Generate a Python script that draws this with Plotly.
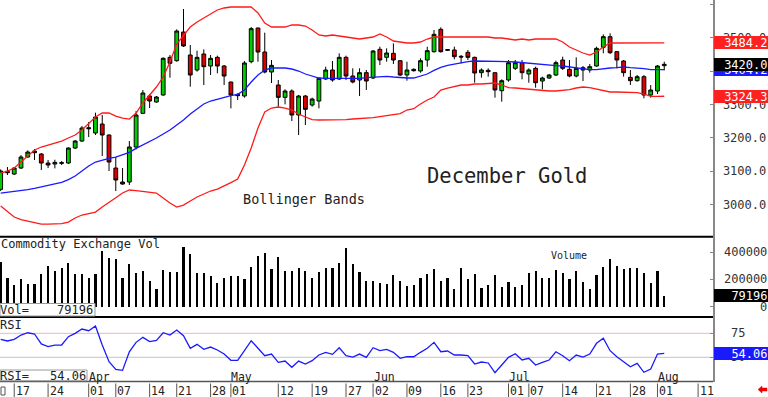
import plotly.graph_objects as go
import pandas as pd

W, H = 768, 397
FONT = "DejaVu Sans Mono"

# ---------------- data ----------------
open_ = [3045, 3099, 3091, 3109, 3142, 3160, 3151, 3124, 3121, 3123, 3124, 3169, 3190, 3230, 3214, 3241, 3208, 3109, 3067, 3067,
         3172, 3273, 3325, 3307, 3328, 3441, 3431, 3517, 3448, 3403, 3451, 3415, 3441, 3415, 3367, 3330, 3325, 3428, 3529, 3457,
         3397, 3358, 3321, 3340, 3268, 3325, 3298, 3310, 3376, 3403, 3376, 3441, 3385, 3373, 3395, 3379, 3465, 3441, 3453, 3431,
         3388, 3405, 3400, 3433, 3458, 3525, 3462, 3463, 3444, 3456, 3441, 3395, 3402, 3395, 3341, 3373, 3408, 3425, 3391, 3408,
         3370, 3379, 3388, 3433, 3405, 3385, 3410, 3403, 3415, 3471, 3503, 3458, 3430, 3381, 3371, 3383, 3328, 3340, 3416]
high = [3105, 3112, 3112, 3148, 3162, 3166, 3154, 3133, 3134, 3130, 3171, 3193, 3235, 3247, 3275, 3268, 3210, 3142, 3109, 3190,
        3280, 3343, 3331, 3325, 3441, 3448, 3525, 3586, 3478, 3461, 3465, 3448, 3446, 3418, 3368, 3333, 3430, 3532, 3530, 3515,
        3433, 3373, 3345, 3345, 3328, 3328, 3320, 3381, 3413, 3430, 3453, 3446, 3408, 3408, 3403, 3463, 3473, 3468, 3483, 3433,
        3428, 3408, 3438, 3473, 3523, 3531, 3466, 3473, 3448, 3463, 3443, 3408, 3408, 3395, 3375, 3433, 3433, 3433, 3408, 3413,
        3383, 3391, 3431, 3443, 3433, 3441, 3415, 3421, 3473, 3510, 3513, 3460, 3433, 3403, 3388, 3388, 3358, 3418, 3428]
low = [3040, 3088, 3088, 3106, 3140, 3133, 3103, 3109, 3108, 3118, 3121, 3166, 3187, 3202, 3208, 3145, 3100, 3040, 3059, 3058,
       3165, 3271, 3289, 3305, 3326, 3380, 3428, 3472, 3353, 3398, 3358, 3388, 3393, 3358, 3288, 3313, 3320, 3423, 3428, 3393,
       3364, 3293, 3300, 3250, 3208, 3238, 3293, 3288, 3373, 3368, 3373, 3373, 3363, 3325, 3343, 3376, 3418, 3428, 3421, 3385,
       3371, 3398, 3395, 3413, 3455, 3455, 3460, 3435, 3423, 3433, 3365, 3380, 3383, 3320, 3308, 3368, 3403, 3375, 3365, 3350,
       3345, 3376, 3385, 3403, 3381, 3381, 3370, 3395, 3413, 3453, 3451, 3408, 3383, 3358, 3368, 3318, 3320, 3331, 3402]
close = [3100, 3095, 3109, 3142, 3157, 3155, 3124, 3118, 3126, 3125, 3169, 3190, 3229, 3227, 3262, 3208, 3127, 3073, 3061, 3172,
         3268, 3334, 3310, 3322, 3438, 3423, 3520, 3475, 3388, 3441, 3413, 3438, 3415, 3385, 3328, 3326, 3424, 3527, 3457, 3397,
         3417, 3321, 3340, 3268, 3325, 3285, 3316, 3378, 3403, 3373, 3441, 3385, 3367, 3395, 3370, 3460, 3433, 3454, 3433, 3388,
         3403, 3401, 3431, 3461, 3510, 3458, 3464, 3443, 3442, 3441, 3394, 3403, 3398, 3343, 3371, 3425, 3425, 3395, 3403, 3365,
         3379, 3388, 3425, 3408, 3385, 3408, 3403, 3413, 3468, 3503, 3455, 3433, 3395, 3371, 3383, 3328, 3343, 3415, 3420.0]

# Bollinger bands (in price units)
upper_band = [3094, 3100, 3109, 3127, 3145, 3163, 3172, 3178, 3184, 3190, 3199, 3208, 3223, 3241, 3262, 3274, 3274, 3265, 3259, 3256,
              3274, 3304, 3328, 3352, 3382, 3427, 3481, 3508, 3532, 3547, 3559, 3571, 3583, 3589, 3592, 3592, 3592, 3592, 3574, 3544,
              3532, 3532, 3532, 3538, 3538, 3535, 3523, 3508, 3505, 3508, 3505, 3502, 3499, 3496, 3499, 3502, 3511, 3502, 3490, 3487,
              3484, 3484, 3487, 3496, 3502, 3502, 3502, 3502, 3502, 3502, 3502, 3502, 3502, 3499, 3499, 3496, 3493, 3496, 3493, 3496,
              3496, 3496, 3496, 3487, 3472, 3463, 3454, 3448, 3457, 3472, 3484, 3484, 3484, 3484, 3484, 3484, 3484, 3484.2, 3484.2]
mid_band = [3034, 3036, 3038, 3042, 3044, 3048, 3052, 3056, 3061, 3066, 3074, 3085, 3100, 3115, 3127, 3133, 3138, 3142, 3148, 3156,
            3168, 3178, 3190, 3199, 3211, 3223, 3238, 3253, 3271, 3286, 3301, 3310, 3316, 3322, 3326, 3330, 3343, 3367, 3388, 3403,
            3409, 3409, 3409, 3406, 3400, 3391, 3384, 3379, 3378, 3378, 3378, 3376, 3376, 3378, 3380, 3382, 3382, 3384, 3382, 3380,
            3379, 3379, 3384, 3391, 3402, 3411, 3417, 3421, 3426, 3428, 3430, 3430, 3430, 3430, 3430, 3428, 3427, 3425, 3423, 3420,
            3418, 3418, 3416, 3415, 3412, 3409, 3406, 3404, 3404, 3407, 3409, 3410, 3412, 3410, 3409, 3407, 3404, 3403, 3404.2]
low_band = [2995, 2977, 2962, 2954, 2950, 2946, 2941, 2941, 2941, 2942, 2947, 2959, 2968, 2972, 2977, 2992, 3007, 3020, 3034, 3043,
            3041, 3038, 3037, 3034, 3019, 3004, 2992, 2998, 3010, 3022, 3031, 3040, 3046, 3055, 3065, 3076, 3118, 3169, 3229, 3277,
            3289, 3292, 3289, 3283, 3271, 3262, 3254, 3253, 3253, 3253, 3253, 3254, 3256, 3257, 3259, 3260, 3263, 3266, 3269, 3272,
            3283, 3287, 3301, 3313, 3322, 3343, 3349, 3353, 3358, 3358, 3361, 3361, 3362, 3364, 3358, 3350, 3349, 3347, 3346, 3343,
            3340, 3340, 3340, 3341, 3344, 3349, 3352, 3350, 3346, 3340, 3337, 3337, 3337, 3337, 3335, 3331, 3324, 3324, 3324.3]

volume = [330000, 213000, 159000, 203000, 166000, 166000, 238000, 299000, 264000, 286000, 318000, 240000, 238000, 208000, 240000,
          409000, 360000, 348000, 213000, 313000, 250000, 262000, 191000, 127000, 269000, 252000, 252000, 440000, 387000, 245000,
          245000, 223000, 171000, 213000, 225000, 225000, 201000, 294000, 374000, 392000, 274000, 367000, 262000, 262000, 282000,
          264000, 208000, 252000, 282000, 282000, 318000, 433000, 313000, 257000, 188000, 188000, 176000,
          164000, 232000, 191000, 154000, 159000, 208000, 240000, 274000, 191000, 213000, 129000, 286000, 201000, 240000, 134000,
          159000, 232000, 146000, 179000, 142000, 159000, 245000, 262000, 208000, 208000, 269000, 245000, 203000, 262000, 179000,
          129000, 232000, 294000, 348000, 301000, 274000, 282000, 282000, 245000, 176000, 262000, 79196]

rsi = [68.7, 67.0, 68.7, 73.2, 75.6, 74.3, 63.9, 61.1, 62.8, 62.8, 71.5, 75.0, 79.5, 77.7, 82.6, 62.8, 45.4, 37.5, 36.4, 55.8,
       65.6, 70.8, 66.3, 67.7, 75.6, 73.2, 78.4, 72.5, 59.4, 63.5, 58.3, 60.7, 57.6, 53.4, 46.9, 46.9, 56.9, 67.3, 59.4, 51.7,
       53.4, 44.8, 46.1, 39.6, 46.1, 43.0, 46.5, 52.4, 55.2, 53.1, 60.0, 51.7, 50.3, 53.4, 50.0, 60.0, 56.9,
       58.3, 55.2, 49.0, 50.6, 50.6, 55.2, 59.4, 65.6, 55.8, 56.6, 52.4, 52.4, 51.7, 43.0, 45.1, 44.1, 34.0, 42.0, 50.0, 53.8,
       47.2, 49.0, 42.0, 44.8, 47.2, 55.8, 51.7, 46.5, 52.4, 50.3, 53.4, 64.6, 69.8, 56.9, 50.6, 45.4, 40.2, 43.7, 34.4, 37.8,
       53.4, 54.06]

# calendar: trading days (COMEX holidays removed)
holidays = ["2025-04-18", "2025-05-26", "2025-06-19", "2025-07-04"]
trading_days = [d.strftime("%Y-%m-%d") for d in pd.bdate_range("2025-03-13", "2025-08-11")
                if d.strftime("%Y-%m-%d") not in holidays]

date_ticks = ["2025-03-17", "2025-03-24", "2025-04-01", "2025-04-07", "2025-04-14", "2025-04-21", "2025-04-28",
              "2025-05-01", "2025-05-12", "2025-05-19", "2025-05-27", "2025-06-02", "2025-06-09", "2025-06-16",
              "2025-06-23", "2025-07-01", "2025-07-07", "2025-07-14", "2025-07-21", "2025-07-28", "2025-08-01",
              "2025-08-11"]
date_text = [d[-2:] for d in date_ticks]
month_ticks = ["2025-04-01", "2025-05-01", "2025-06-02", "2025-07-01", "2025-08-01"]
month_text = ["Apr", "May", "Jun", "Jul", "Aug"]

price_ticks = [3000, 3100, 3200, 3300, 3400, 3500, 3600]
vol_ticks = [0, 200000, 400000]
rsi_ticks = [50, 75]

x = list(range(len(close)))


def pos(day):
    return trading_days.index(day)


def py(ypx):
    return 1 - ypx / H


def px(xpx):
    return xpx / W


# ---------------- layout geometry ----------------
PLOT_R = 713
Y_P_BOT = 236.7
Y_V_BOT = 317.0
Y_R_BOT = 381.5

fig = go.Figure()

fig.add_trace(go.Candlestick(
    x=x, open=open_, high=high, low=low, close=close,
    increasing=dict(line=dict(color="black", width=1), fillcolor="#00cc00"),
    decreasing=dict(line=dict(color="black", width=1), fillcolor="#dd0000"),
    whiskerwidth=0, xaxis="x", yaxis="y", hoverinfo="skip", showlegend=False))

for band, col in ((upper_band, "#ff1a1a"), (low_band, "#ff1a1a"), (mid_band, "#1a1aff")):
    fig.add_trace(go.Scatter(x=x, y=band, mode="lines", line=dict(color=col, width=1.3),
                             xaxis="x", yaxis="y", hoverinfo="skip", showlegend=False))

fig.add_trace(go.Bar(x=x, y=volume, width=0.32, marker=dict(color="black", line=dict(width=0)),
                     xaxis="x", yaxis="y2", hoverinfo="skip", showlegend=False))

fig.add_trace(go.Scatter(x=x, y=rsi, mode="lines", line=dict(color="#1a1aff", width=1.3),
                         xaxis="x", yaxis="y3", hoverinfo="skip", showlegend=False))

axis_common = dict(showgrid=False, zeroline=False, fixedrange=True)

fig.update_layout(
    width=W, height=H, margin=dict(l=0, r=0, t=0, b=0),
    paper_bgcolor="white", plot_bgcolor="white", showlegend=False,
    boxgap=0.2, bargap=0,
    font=dict(family=FONT, size=12, color="#222"),
    xaxis=dict(domain=[0, px(PLOT_R)], range=[-0.1, 105.2], anchor="y3", showticklabels=False,
               showline=False, ticks="", rangeslider=dict(visible=False), **axis_common),
    yaxis=dict(domain=[py(Y_P_BOT), 1], range=[2903, 3613], side="right", anchor="x",
               tickvals=price_ticks, ticktext=[f"{v:.1f}" for v in price_ticks],
               ticks="inside", ticklen=3, tickcolor="#888", ticklabelstandoff=6,
               showline=True, linecolor="#888", linewidth=1.5,
               tickfont=dict(family=FONT, size=12, color="#333"), **axis_common),
    yaxis2=dict(domain=[py(Y_V_BOT), py(Y_P_BOT)], range=[-76470, 514000], side="right", anchor="x",
                tickvals=vol_ticks, showticklabels=False, ticks="inside", ticklen=3, tickcolor="#888",
                showline=True, linecolor="#888", linewidth=1.5, **axis_common),
    yaxis3=dict(domain=[py(Y_R_BOT), py(Y_V_BOT)], range=[24.8, 92.0], side="right", anchor="x",
                tickvals=rsi_ticks, showticklabels=False, ticks="inside", ticklen=3, tickcolor="#888",
                showline=True, linecolor="#888", linewidth=1.5, **axis_common),
)

shapes = []
# RSI reference lines
shapes.append(dict(type="line", xref="x domain", yref="y3", x0=0, x1=1, y0=75, y1=75,
                   line=dict(color="#ffb0b0", width=1), layer="below"))
shapes.append(dict(type="line", xref="x domain", yref="y3", x0=0, x1=1, y0=50, y1=50,
                   line=dict(color="#c4c4c4", width=1), layer="below"))
# panel separators
for yy, col, wd in ((Y_P_BOT, "black", 2), (Y_V_BOT, "black", 2), (Y_R_BOT, "#555", 1.5)):
    shapes.append(dict(type="line", xref="paper", yref="paper", x0=0, x1=px(PLOT_R), y0=py(yy), y1=py(yy),
                       line=dict(color=col, width=wd), layer="above"))
# info boxes
shapes.append(dict(type="rect", xref="paper", yref="paper", x0=0, x1=px(95), y0=py(303.5), y1=py(Y_V_BOT - 1),
                   line=dict(color="#999", width=1), fillcolor="white", layer="above"))
shapes.append(dict(type="rect", xref="paper", yref="paper", x0=0, x1=px(87), y0=py(370), y1=py(Y_R_BOT - 0.8),
                   line=dict(color="#999", width=1), fillcolor="white", layer="above"))
# date separators
for d in date_ticks:
    shapes.append(dict(type="line", xref="x", yref="paper", x0=pos(d), x1=pos(d), y0=py(397), y1=py(383.5),
                       line=dict(color="#555", width=1)))
shapes.append(dict(type="rect", xref="paper", yref="paper", x0=px(1), x1=px(5), y0=py(395), y1=py(387),
                   line=dict(color="#555", width=1)))
# red arrow bottom right
ax0, ay0 = 758, 389.5
arrow = (f"M {px(ax0)} {py(ay0)} L {px(ax0+4)} {py(ay0-3.5)} L {px(ax0+4)} {py(ay0-1.5)} L {px(ax0+9)} {py(ay0-1.5)} "
         f"L {px(ax0+9)} {py(ay0+1.5)} L {px(ax0+4)} {py(ay0+1.5)} L {px(ax0+4)} {py(ay0+3.5)} Z")
shapes.append(dict(type="path", xref="paper", yref="paper", path=arrow, fillcolor="#ee0000",
                   line=dict(color="#ee0000", width=0.5)))
fig.update_layout(shapes=shapes)

ann = []


def text(t, xp, yp, size=12, anchor="left", color="#222", **kw):
    ann.append(dict(text=t, xref="paper", yref="paper", x=px(xp), y=py(yp), xanchor=anchor, yanchor="middle",
                    showarrow=False, borderpad=0, borderwidth=0,
                    font=dict(family=FONT, size=size, color=color), **kw))


text("Bollinger Bands", 243, 199, size=13.5)
text("December Gold", 427, 176, size=20.5)
text("Commodity Exchange Vol", 1, 244)
text("Volume", 551, 255, size=10)
text("RSI", 0, 325)
text("Vol=", 0, 310)
text(f"{volume[-1]:.0f}", 93, 310, anchor="right")
text("RSI=", 0, 376)
text(f"{rsi[-1]:.2f}", 86, 376, anchor="right")

for d, t in zip(date_ticks, date_text):
    ann.append(dict(text=t, xref="x", yref="paper", x=pos(d), y=py(390.5), xanchor="left", yanchor="middle",
                    xshift=1.5, showarrow=False, borderpad=0, borderwidth=0,
                    font=dict(family=FONT, size=11.5, color="#222")))
for d, t in zip(month_ticks, month_text):
    ann.append(dict(text=t, xref="x", yref="paper", x=pos(d), y=py(376.5), xanchor="left", yanchor="middle",
                    xshift=0.5, showarrow=False, borderpad=0, borderwidth=0,
                    font=dict(family=FONT, size=11.5, color="#222")))

# right side tick labels for volume and RSI
for v in vol_ticks:
    ann.append(dict(text=f"{v}", xref="paper", yref="y2", x=px(767), y=v, xanchor="right", yanchor="middle",
                    showarrow=False, borderpad=0, borderwidth=0, font=dict(family=FONT, size=12, color="#333")))
for v in rsi_ticks:
    ann.append(dict(text=f"{v}", xref="paper", yref="y3", x=px(745), y=v, xanchor="right", yanchor="middle",
                    showarrow=False, borderpad=0, borderwidth=0, font=dict(family=FONT, size=12, color="#333")))


def tag(val, fmt, yref, bg):
    ann.append(dict(text=fmt.format(val), xref="paper", yref=yref, x=px(PLOT_R + 0.5), y=val,
                    xanchor="left", yanchor="middle", showarrow=False, bgcolor=bg,
                    width=53, height=12, align="right", borderpad=0.5, borderwidth=0,
                    font=dict(family=FONT, size=12, color="white")))


tag(upper_band[-1], "{:.1f}", "y", "#ff2020")
tag(mid_band[-1], "{:.1f}", "y", "#1a1aff")
tag(close[-1], "{:.1f}", "y", "black")
tag(low_band[-1], "{:.1f}", "y", "#ff2020")
tag(volume[-1], "{:.0f}", "y2", "black")
tag(rsi[-1], "{:.2f}", "y3", "#1a1aff")

fig.update_layout(annotations=ann)

fig.write_html("out.html", config=dict(displayModeBar=False, staticPlot=True),
               post_script="document.body.style.margin='0';document.body.style.overflow='hidden';")
